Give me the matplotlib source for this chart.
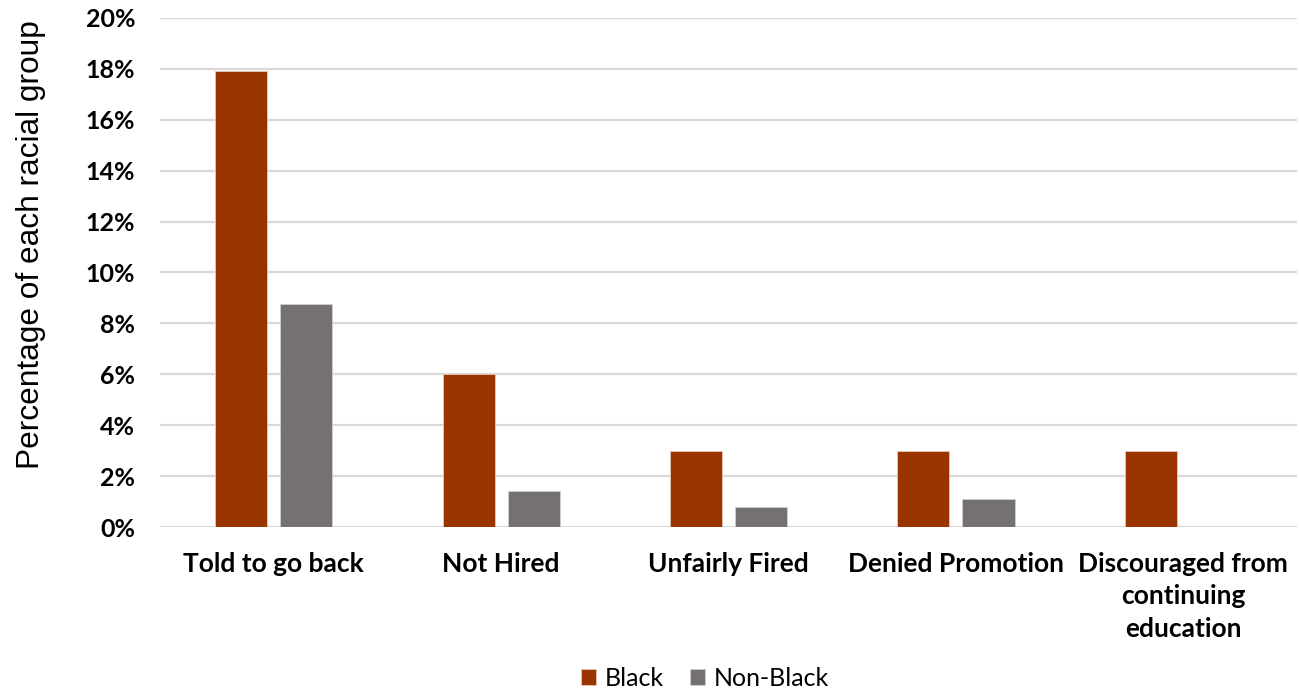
import matplotlib
matplotlib.use("Agg")
import matplotlib.pyplot as plt
import numpy as np
from matplotlib.ticker import FuncFormatter, MultipleLocator

categories = ["Told to go back", "Not Hired", "Unfairly Fired", "Denied Promotion",
              "Discouraged from\ncontinuing\neducation"]
black = [17.9, 6.0, 3.0, 3.0, 3.0]
non_black = [8.75, 1.4, 0.8, 1.1, 0.0]
series_names = ["Black", "Non-Black"]
colors = ["#993300", "#767171"]

fig = plt.figure(figsize=(12.99, 6.89), dpi=100)
ax = fig.add_axes([0.1232, 0.2351, 0.8753, 0.7388])

x = np.arange(len(categories))
width = 0.229
offset = 0.143
ax.bar(x - offset, black, width, color=colors[0], edgecolor="#e8c8b8",
       linewidth=0.6, label=series_names[0], zorder=3)
ax.bar(x + offset, non_black, width, color=colors[1], edgecolor="#d0d0d0",
       linewidth=0.6, label=series_names[1], zorder=3)

ax.set_xlim(-0.5, len(categories) - 0.5)
ax.set_ylim(0, 20)
ax.yaxis.set_major_locator(MultipleLocator(2))
ax.yaxis.set_major_formatter(FuncFormatter(lambda v, _: f"{v:.0f}%"))
ax.grid(axis="y", color="#d9d9d9", linewidth=1.6, zorder=0)
ax.set_axisbelow(True)
for s in ax.spines.values():
    s.set_visible(False)
ax.tick_params(axis="both", length=0)
ax.tick_params(axis="y", pad=18)
ax.tick_params(axis="x", pad=18)

ax.set_xticks(x)
ax.set_xticklabels(categories, fontfamily="Lato", fontweight="bold",
                   fontsize=19, linespacing=1.42, va="top")
for lab in ax.get_yticklabels():
    lab.set_fontfamily("Lato")
    lab.set_fontweight("bold")
    lab.set_fontsize(18)

ax.set_ylabel("Percentage of each racial group", fontfamily="Liberation Sans",
              fontsize=22.8)
ax.yaxis.set_label_coords(-0.1, 0.554)

fig.legend(loc="center", bbox_to_anchor=(705 / 1299, 1 - 678 / 689), ncol=2,
           frameon=False, prop={"family": "Lato", "size": 18},
           handlelength=0.6, handleheight=0.6, handletextpad=0.35,
           columnspacing=1.05)

fig.savefig("out.png", dpi=100)
